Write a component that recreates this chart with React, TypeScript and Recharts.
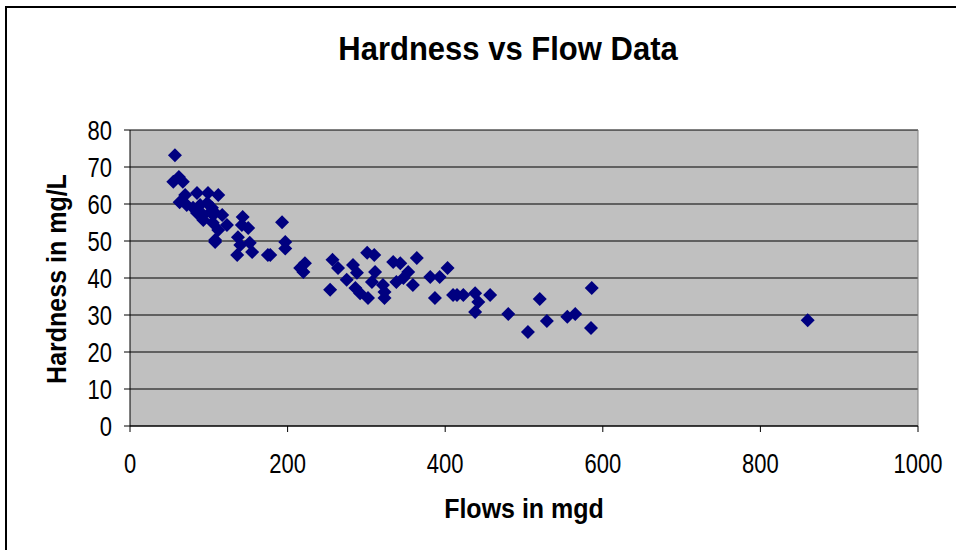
import React from "react";
import { ScatterChart, Scatter, XAxis, YAxis, CartesianGrid, ReferenceLine } from "recharts";

const flows = [
  57, 62, 55, 67, 70, 85, 99, 112, 63, 72, 80, 89, 98, 104, 85, 93, 102, 108, 117, 93,
  105, 123, 112, 108, 143, 142, 150, 137, 152, 140, 136, 155, 175, 108, 178, 193, 197, 197, 222, 220,
  216, 257, 264, 254, 283, 288, 275, 286, 292, 302, 301, 310, 311, 307, 321, 323, 323, 334, 343, 338,
  347, 353, 359, 364, 381, 393, 403, 387, 410, 415, 423, 438, 442, 438, 457, 480, 505, 520, 529, 555,
  565, 586, 585, 860,
];
const hardness = [
  73.2, 67.3, 66, 66, 62.4, 63, 63, 62.4, 60.5, 59.7, 59, 59.7, 60.3, 59, 57.6, 57, 57.8, 57.6, 57, 55.7,
  54.9, 54.3, 53, 50.3, 56.5, 54.3, 53.5, 51, 49.5, 48.9, 46.2, 47, 46.2, 49.7, 46.2, 55.1, 49.7, 48, 44, 41.6,
  42.7, 44.9, 42.7, 36.8, 43.5, 41.4, 39.5, 37.3, 35.9, 34.6, 46.8, 46.2, 41.6, 38.9, 38.1, 36.2, 34.6, 44.3, 44, 38.9,
  40, 41.6, 38.1, 45.4, 40.3, 40.3, 42.7, 34.6, 35.4, 35.4, 35.4, 35.9, 33.5, 30.8, 35.4, 30.3, 25.4, 34.3, 28.4, 29.5,
  30.3, 37.3, 26.5, 28.6,
];
const xTicks = [0, 200, 400, 600, 800, 1000];
const yTicks = [0, 10, 20, 30, 40, 50, 60, 70, 80];

const data = flows.map((f, i) => ({ flow: f, hardness: hardness[i] }));

const FONT = "'Liberation Sans', Arial, sans-serif";

const Diamond = (props: any) => {
  const { cx, cy } = props;
  if (cx == null || cy == null) return null;
  const r = 7;
  return (
    <polygon
      points={`${cx},${cy - r} ${cx + r},${cy} ${cx},${cy + r} ${cx - r},${cy}`}
      fill="#000080"
    />
  );
};

const XTick = (props: any) => {
  const { x, y, payload } = props;
  return (
    <g transform={`translate(${x},${y})`}>
      <text transform="scale(1,1.22)" textAnchor="middle" dy="0.71em" fill="#000" fontSize={22} fontFamily={FONT}>
        {payload.value}
      </text>
    </g>
  );
};

const YTick = (props: any) => {
  const { x, y, payload } = props;
  return (
    <g transform={`translate(${x},${y})`}>
      <text transform="scale(1,1.22)" textAnchor="end" dy="0.355em" fill="#000" fontSize={22} fontFamily={FONT}>
        {payload.value}
      </text>
    </g>
  );
};

export default function App() {
  return (
    <div style={{ position: "absolute", left: 0, top: 0, width: 956, height: 550, background: "#fff", overflow: "hidden", fontFamily: FONT }}>
      <div style={{ position: "absolute", left: 5, top: 6, width: 1000, height: 700, borderLeft: "2px solid #000", borderTop: "2px solid #000" }} />
      <div style={{ position: "absolute", left: 0, width: 1016, top: 31, textAlign: "center", fontSize: 31, fontWeight: "bold", color: "#000", transform: "scale(1,1.1)" }}>
        Hardness vs Flow Data
      </div>
      <div style={{ position: "absolute", left: 0, width: 1048, top: 494, textAlign: "center", fontSize: 25, fontWeight: "bold", color: "#000", transform: "scale(1,1.1)" }}>
        Flows in mgd
      </div>
      <div style={{ position: "absolute", left: 56, top: 279, width: 0, height: 0 }}>
        <div style={{ position: "absolute", left: -200, top: -16, width: 400, textAlign: "center", transform: "rotate(-90deg) scale(1,1.1)", fontSize: 25, fontWeight: "bold", color: "#000", lineHeight: "32px" }}>
          Hardness in mg/L
        </div>
      </div>
      <div style={{ position: "absolute", left: 0, top: 0 }}>
        <ScatterChart width={956} height={550} margin={{ top: 130, right: 38, bottom: 24, left: 50 }}>
          <CartesianGrid horizontal={true} vertical={false} stroke="#000" fill="#C0C0C0" fillOpacity={1} />
          <XAxis
            type="number"
            dataKey="flow"
            domain={[0, 1000]}
            ticks={xTicks}
            interval={0}
            height={100}
            axisLine={{ stroke: "#000" }}
            tickLine={{ stroke: "#000" }}
            tickSize={6}
            tickMargin={22}
            tick={<XTick />}
          />
          <YAxis
            type="number"
            dataKey="hardness"
            domain={[0, 80]}
            ticks={yTicks}
            interval={0}
            width={80}
            axisLine={{ stroke: "#000" }}
            tickLine={{ stroke: "#000" }}
            tickSize={6}
            tickMargin={12}
            tick={<YTick />}
          />
          <ReferenceLine x={1000} stroke="#808080" />
          <Scatter data={data} shape={Diamond} isAnimationActive={false} />
        </ScatterChart>
      </div>
    </div>
  );
}
